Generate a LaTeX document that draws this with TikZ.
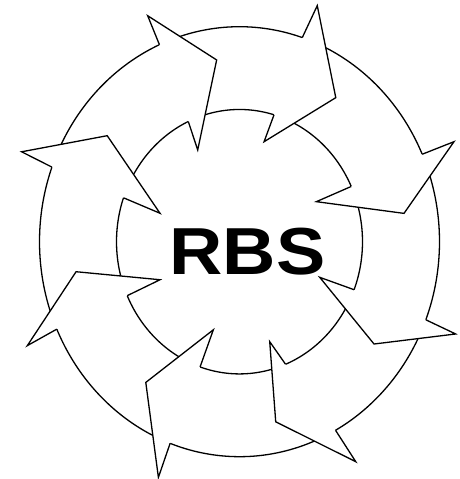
\documentclass[tikz,border=0pt]{standalone}
\usepackage{fontspec}
\usepackage{graphicx}
\newfontfamily\rbsfont{Liberation Sans}
\tikzset{
  ringpart/.style={fill=white, draw=black, line width=1.3pt, line join=miter},
  rbstext/.style={inner sep=0pt, outer sep=0pt, anchor=base west}
}
% body of one curved arrow: outer base, outer tail, inner tail, inner base (angles)
\newcommand\rbsbody[4]{%
  \path[ringpart] plot[domain=#1:#2, samples=45] (\x:1)
     -- plot[domain=#3:#4, samples=35] (\x:0.615);}
\begin{document}
\begin{tikzpicture}[x=1pt, y=1pt]
\useasboundingbox (0,0) rectangle (459,479);
\begin{scope}[shift={(239.5,237.3)}, x=200pt, y=215pt]
  % bodies
  \rbsbody{159.7}{201.5}{201.6}{160.6}
  \rbsbody{113.6}{157.2}{158.1}{114.6}
  \rbsbody{71.7}{111.1}{112.1}{73.7}
  \rbsbody{24.0}{69.2}{71.2}{24.7}
  \rbsbody{-21.3}{21.5}{22.2}{-21.3}
  \rbsbody{-61.3}{-23.8}{-23.8}{-68.0}
  \rbsbody{-110.3}{-63.8}{-70.5}{-108.7}
  \rbsbody{-156.0}{-112.8}{-111.2}{-155.9}
  % heads
  \path[ringpart] (159.7:1) -- (159.0:1.167) -- (143.3:0.825) -- (161.6:0.419) -- (160.6:0.615);
  \path[ringpart] (113.6:1) -- (113.6:1.147) -- (97.7:0.853) -- (116.1:0.475) -- (114.6:0.615);
  \path[ringpart] (71.7:1) -- (70.5:1.165) -- (54.3:0.825) -- (75.2:0.481) -- (73.7:0.615);
  \path[ringpart] (24.0:1) -- (23.45:1.169) -- (9.1:0.833) -- (25.85:0.427) -- (24.7:0.615);
  \path[ringpart] (-21.3:1) -- (-21.66:1.163) -- (-35.28:0.824) -- (-22.44:0.434) -- (-21.3:0.615);
  \path[ringpart] (-61.3:1) -- (-60.4:1.177) -- (-77.8:0.857) -- (-72.0:0.489) -- (-68.0:0.615);
  \path[ringpart] (-110.3:1) -- (-110.3:1.169) -- (-125.6:0.805) -- (-107.7:0.430) -- (-108.7:0.615);
  \path[ringpart] (-156.0:1) -- (-155.5:1.166) -- (-170.3:0.829) -- (-156.0:0.435) -- (-155.9:0.615);
\end{scope}
\node[rbstext] (rbs) at (169.6,204)
  {\scalebox{1.11}[1]{\rbsfont\bfseries\fontsize{66.5}{66.5}\selectfont RBS}};
\end{tikzpicture}
\end{document}
